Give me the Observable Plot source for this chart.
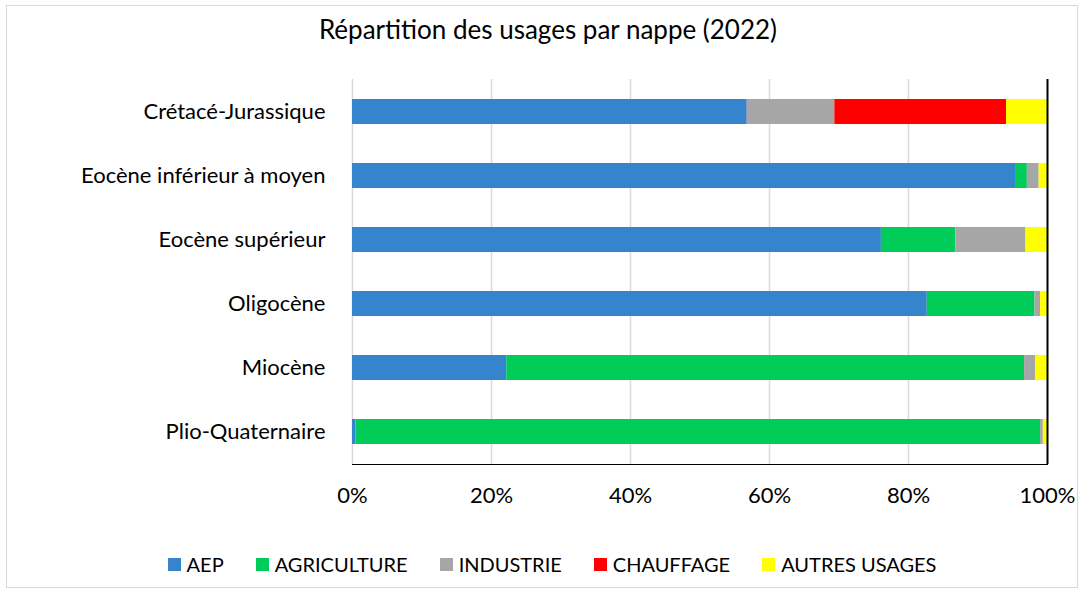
<!DOCTYPE html>
<html>
<head>
<meta charset="utf-8">
<script src="https://cdn.jsdelivr.net/npm/d3@7"></script>
<script src="https://cdn.jsdelivr.net/npm/@observablehq/plot@0.6"></script>
<style>
  html, body { margin: 0; padding: 0; background: #fff; }
  body { position: relative; width: 1084px; height: 590px; overflow: hidden; font-family: Lato, "Noto Sans", sans-serif; color: #000; }
  #border { position: absolute; left: 6px; top: 5px; width: 1072px; height: 583px; border: 1px solid #d9d9d9; box-sizing: border-box; }
  #title { position: absolute; top: 14px; left: 6px; width: 1084px; text-align: center; font-size: 26px; line-height: 1.2; }
  #plot { position: absolute; top: 0; left: 0; }
  #legend { position: absolute; top: 552px; left: 10px; width: 1084px; display: flex; justify-content: center; gap: 32px; font-size: 20px; line-height: 1.2; }
  #legend span.item { display: flex; align-items: center; }
  #legend span.sw { display: inline-block; width: 13px; height: 13px; margin-right: 6px; }
</style>
</head>
<body>
<div id="border"></div>
<div id="plot"></div>
<div id="title">Répartition des usages par nappe (2022)</div>
<div id="legend"></div>
<script>
const nappes = ["Crétacé-Jurassique", "Eocène inférieur à moyen", "Eocène supérieur", "Oligocène", "Miocène", "Plio-Quaternaire"];
const usages = ["AEP", "AGRICULTURE", "INDUSTRIE", "CHAUFFAGE", "AUTRES USAGES"];
const colors = ["#3584cc", "#00cc5a", "#a6a6a6", "#ff0000", "#ffff00"];
// shares (%) per nappe, in the order of nappes
const aep         = [56.8, 95.4, 76.1, 82.7, 22.2, 0.5];
const agriculture = [0.0, 1.7, 10.7, 15.5, 74.5, 98.5];
const industrie   = [12.6, 1.7, 10.1, 0.8, 1.6, 0.4];
const chauffage   = [24.7, 0.0, 0.0, 0.0, 0.0, 0.0];
const autres      = [5.9, 1.2, 3.1, 1.0, 1.7, 0.6];
const xTicks = [0, 0.2, 0.4, 0.6, 0.8, 1];

const series = [aep, agriculture, industrie, chauffage, autres];
const data = [];
nappes.forEach((n, i) => {
  usages.forEach((u, j) => {
    data.push({nappe: n, usage: u, value: series[j][i] / 100});
  });
});

const plot = Plot.plot({
  width: 1084,
  height: 520,
  marginLeft: 352,
  marginRight: 37,
  marginTop: 79,
  marginBottom: 56,
  style: {fontFamily: "Lato, 'Noto Sans', sans-serif", fontSize: "22px", color: "#000", background: "transparent"},
  x: {domain: [0, 1], ticks: xTicks, tickFormat: d3.format(".0%"), tickSize: 0, tickPadding: 23, label: null, line: true},
  y: {domain: nappes, paddingInner: 0.61, paddingOuter: 0.305, tickSize: 0, tickPadding: 27, label: null},
  color: {domain: usages, range: colors},
  marks: [
    Plot.ruleX(xTicks.slice(0, -1), {stroke: "#d9d9d9", strokeWidth: 1.5}),
    Plot.barX(data, Plot.stackX({x: "value", y: "nappe", fill: "usage", order: usages})),
    Plot.ruleX([1], {stroke: "#000", strokeWidth: 2})
  ]
});
plot.querySelectorAll("[aria-label='x-axis'] path, [aria-label='x-axis'] line").forEach(e => e.setAttribute("stroke-width", 2));
document.getElementById("plot").appendChild(plot);

const legend = document.getElementById("legend");
usages.forEach((u, j) => {
  const item = document.createElement("span");
  item.className = "item";
  item.innerHTML = `<span class="sw" style="background:${colors[j]}"></span>${u}`;
  legend.appendChild(item);
});
</script>
</body>
</html>
